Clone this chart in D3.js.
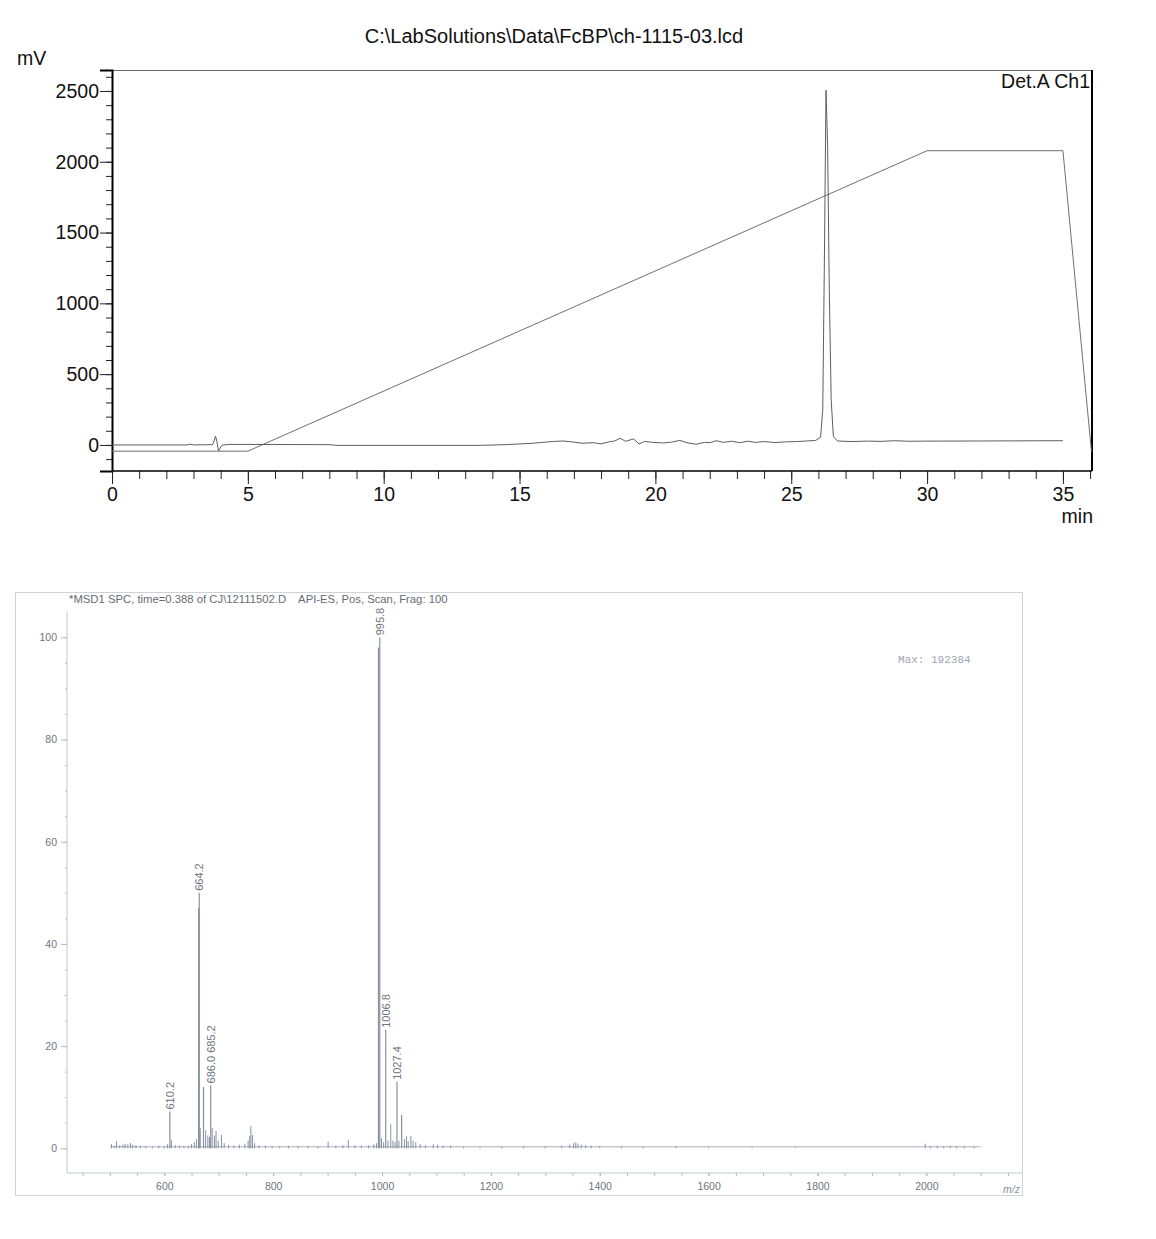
<!DOCTYPE html>
<html>
<head>
<meta charset="utf-8">
<script src="https://cdn.jsdelivr.net/npm/d3@7"></script>
<style>
  body { margin: 0; background: #fff; }
  svg { display: block; }
</style>
</head>
<body>
<svg id="chart" width="1156" height="1239"></svg>
<script>
// ---- chromatogram (top) ----
var lcTitle = "C:\\LabSolutions\\Data\\FcBP\\ch-1115-03.lcd";
var lcTimeTicks = [0, 5, 10, 15, 20, 25, 30, 35];
var lcMvTicks = [0, 500, 1000, 1500, 2000, 2500];
// detector signal, [min, mV]
var lcSignal = [
  [0, 0], [2.75, 0], [2.85, 5], [2.95, 2], [3.05, 0], [3.7, 2], [3.76, 30], [3.81, 62],
  [3.86, 25], [3.92, -42], [3.98, -22], [4.05, -2], [4.3, 4], [6, 3], [8, 2], [8.3, -3],
  [13.5, -3], [14.5, 2], [15.5, 12], [16.2, 24], [16.6, 28], [17, 20], [17.3, 12], [17.7, 16],
  [18, 8], [18.3, 22], [18.5, 28], [18.7, 47], [18.9, 26], [19.2, 42], [19.4, 7], [19.6, 25],
  [19.9, 18], [20.3, 14], [20.6, 20], [20.9, 32], [21.2, 14], [21.5, 5], [21.8, 18], [22.0, 16],
  [22.25, 30], [22.5, 18], [22.8, 26], [23.1, 16], [23.4, 26], [23.7, 18], [24, 24], [24.4, 17],
  [24.8, 22], [25.2, 24], [25.5, 27], [25.9, 32], [26.08, 55], [26.16, 250], [26.22, 1300],
  [26.28, 2505], [26.34, 2100], [26.4, 1100], [26.47, 320], [26.55, 60], [26.7, 28], [27.2, 24],
  [27.8, 27], [28.3, 25], [28.8, 30], [29.3, 26], [30, 27], [32, 28], [35, 30]
];
// pump gradient trace, [min, mV-scale]
var lcGradient = [[0, -44], [5, -44], [30, 2078], [35, 2078], [36.05, -48]];

// ---- mass spectrum (bottom) ----
var msTitle = "*MSD1 SPC, time=0.388 of CJ\\12111502.D    API-ES, Pos, Scan, Frag: 100";
var msMaxText = "Max: 192384";
var msMzTicks = [600, 800, 1000, 1200, 1400, 1600, 1800, 2000];
var msAbTicks = [0, 20, 40, 60, 80, 100];
// [m/z, relative abundance %]
var msPeaks = [
  [503, 0.8], [508, 0.5], [512, 1.4], [518, 0.6], [524, 0.7], [528, 0.9], [533, 0.8], [538, 1.0],
  [542, 0.7], [548, 0.6], [556, 0.5], [566, 0.4], [578, 0.4], [590, 0.5], [600, 0.4], [606, 0.8],
  [610.2, 7.2], [613, 1.6], [620, 0.6], [628, 0.5], [636, 0.4], [644, 0.5], [650, 0.8], [655, 1.2],
  [659, 1.8], [663, 47], [664.2, 50], [666, 4], [672, 12], [676, 3.5], [680, 2.5], [683, 2.2],
  [685.2, 12.3], [688, 4], [692, 2.5], [695, 3.4], [699, 1.5], [705, 2.6], [710, 1.0], [718, 0.6],
  [728, 0.5], [738, 0.7], [748, 0.9], [754, 1.5], [757, 2.4], [759, 4.3], [762, 2.6], [766, 1.0],
  [774, 0.6], [786, 0.5], [798, 0.4], [812, 0.4], [828, 0.5], [846, 0.4], [864, 0.4], [882, 0.3],
  [901, 1.3], [915, 0.5], [928, 0.6], [938, 1.6], [950, 0.6], [962, 0.5], [975, 0.6], [985, 0.8],
  [990, 1.0], [993.5, 98], [995.8, 100], [999, 2.0], [1003, 1.2], [1006.8, 23.2], [1011, 1.5],
  [1016, 4.7], [1020, 1.5], [1024, 1.2], [1027.4, 13], [1031, 1.5], [1036, 6.5], [1041, 1.8],
  [1045, 2.3], [1048, 1.4], [1053, 2.4], [1057, 1.5], [1062, 1.2], [1070, 0.8], [1080, 0.6],
  [1094, 0.8], [1102, 0.7], [1112, 0.5], [1126, 0.5], [1150, 0.3], [1180, 0.3], [1220, 0.3],
  [1260, 0.3], [1300, 0.4], [1330, 0.5], [1345, 0.7], [1352, 1.0], [1356, 1.2], [1360, 0.9],
  [1366, 0.7], [1374, 0.6], [1384, 0.5], [1400, 0.4], [1440, 0.3], [1480, 0.3], [1540, 0.3],
  [1600, 0.2], [1680, 0.2], [1760, 0.2], [1998, 0.9], [2008, 0.4], [2020, 0.5], [2032, 0.4],
  [2044, 0.5], [2056, 0.4], [2070, 0.3], [2088, 0.3]
];
var msBaseline = [[500, 0.3], [2100, 0.3]];
// label text sits on top of the peak with that mz
var msLabels = [
  { mz: 610.2, text: "610.2" },
  { mz: 664.2, text: "664.2" },
  { mz: 685.2, text: "686.0 685.2" },
  { mz: 995.8, text: "995.8" },
  { mz: 1006.8, text: "1006.8" },
  { mz: 1027.4, text: "1027.4" }
];

var svg = d3.select("#chart");

// ================= top chart =================
var xLc = d3.scaleLinear().domain([0, 36.07]).range([112, 1092]);
var yLc = d3.scaleLinear().domain([-184, 2648]).range([471, 70]);
var lcFont = "Liberation Sans, Arial, sans-serif";
var lcSize = "19.5px ";

var gTop = svg.append("g");

gTop.append("text")
  .attr("x", 554).attr("y", 43)
  .attr("text-anchor", "middle")
  .style("font", "20px " + lcFont)
  .attr("fill", "#111")
  .text(lcTitle);

gTop.append("text").attr("x", 17).attr("y", 65)
  .style("font", lcSize + lcFont).attr("fill", "#111").text("mV");
gTop.append("text").attr("x", 1093).attr("y", 523).attr("text-anchor", "end")
  .style("font", lcSize + lcFont).attr("fill", "#111").text("min");
gTop.append("text").attr("x", 1090).attr("y", 88).attr("text-anchor", "end")
  .style("font", lcSize + lcFont).attr("fill", "#111").text("Det.A Ch1");

// frame top + right
gTop.append("line").attr("x1", 112).attr("x2", 1092).attr("y1", 70.5).attr("y2", 70.5)
  .attr("stroke", "#666").attr("stroke-width", 1);
gTop.append("line").attr("x1", 1092).attr("x2", 1092).attr("y1", 70).attr("y2", 471)
  .attr("stroke", "#000").attr("stroke-width", 2);

// minor y ticks
var yMinor = gTop.append("g").attr("transform", "translate(112,0)")
  .call(d3.axisLeft(yLc).tickValues(d3.range(-100, 2601, 100)).tickSize(6).tickFormat(""));
yMinor.select(".domain").remove();
var yMajor = gTop.append("g").attr("transform", "translate(112,0)")
  .call(d3.axisLeft(yLc).tickValues(lcMvTicks).tickSize(12).tickPadding(1).tickFormat(d3.format("d")));
yMajor.select(".domain").attr("stroke-width", 2).attr("stroke", "#000");
yMajor.selectAll("text").style("font", lcSize + lcFont).attr("fill", "#111");
gTop.selectAll(".tick line").attr("stroke", "#222");

var xMinor = gTop.append("g").attr("transform", "translate(0,471)")
  .call(d3.axisBottom(xLc).tickValues(d3.range(0, 37, 1)).tickSize(8).tickFormat(""));
xMinor.select(".domain").remove();
xMinor.selectAll(".tick line").attr("stroke", "#222");
var xMajor = gTop.append("g").attr("transform", "translate(0,471)")
  .call(d3.axisBottom(xLc).tickValues(lcTimeTicks).tickSize(13).tickPadding(3).tickFormat(d3.format("d")));
xMajor.select(".domain").attr("stroke-width", 1.5).attr("stroke", "#000")
  .attr("d", "M112,0H1092");
xMajor.selectAll("text").style("font", lcSize + lcFont).attr("fill", "#111");
xMajor.selectAll(".tick line").attr("stroke", "#222");

var lcLine = d3.line().x(function(d) { return xLc(d[0]); }).y(function(d) { return yLc(d[1]); });

gTop.append("path").datum(lcGradient)
  .attr("d", lcLine).attr("fill", "none").attr("stroke", "#707070").attr("stroke-width", 1);
gTop.append("path").datum(lcSignal)
  .attr("d", lcLine).attr("fill", "none").attr("stroke", "#5e5e5e").attr("stroke-width", 1);

// ================= bottom chart =================
var xMs = d3.scaleLinear().domain([421.2, 2175.8]).range([67, 1022]);
var yMs = d3.scaleLinear().domain([0, 100]).range([1148.3, 637.3]);
var msGrey = "#8791a0";
var msFont = "Liberation Sans, Arial, sans-serif";

var gBot = svg.append("g");

// outer frame
gBot.append("rect").attr("x", 15.5).attr("y", 592.5).attr("width", 1007).attr("height", 603)
  .attr("fill", "none").attr("stroke", "#cfd3d8").attr("stroke-width", 1);

gBot.append("text").attr("x", 69).attr("y", 603)
  .style("font", "11.3px " + msFont).style("white-space", "pre")
  .attr("fill", "#666c75").text(msTitle);

gBot.append("text").attr("x", 898).attr("y", 663)
  .style("font", "11px 'Liberation Mono', 'DejaVu Sans Mono', monospace")
  .attr("fill", "#a0a6ae").text(msMaxText);

// y axis
var yMsMinor = gBot.append("g").attr("transform", "translate(67,0)")
  .call(d3.axisLeft(yMs).tickValues(d3.range(0, 101, 5)).tickSize(2).tickFormat(""));
yMsMinor.select(".domain").remove();
var yMsMajor = gBot.append("g").attr("transform", "translate(67,0)")
  .call(d3.axisLeft(yMs).tickValues(msAbTicks).tickSize(6).tickPadding(4));
yMsMajor.select(".domain").attr("d", "M0,611V1173");
yMsMajor.selectAll("text").style("font", "10.5px " + msFont).attr("fill", "#6e7580");

// x axis
var xMsAxis = gBot.append("g").attr("transform", "translate(0,1173)")
  .call(d3.axisBottom(xMs).tickValues(d3.range(450, 2176, 50)).tickSize(3).tickFormat(""));
xMsAxis.select(".domain").attr("d", "M67,0H1022");
var xMsLab = gBot.append("g").attr("transform", "translate(0,1173)")
  .call(d3.axisBottom(xMs).tickValues(msMzTicks).tickSize(3).tickPadding(7).tickFormat(d3.format("d")));
xMsLab.select(".domain").remove();
xMsLab.selectAll("text").style("font", "10.5px " + msFont).attr("fill", "#6e7580");
gBot.selectAll(".domain").attr("stroke", "#c3c8ce");
gBot.selectAll(".tick line").attr("stroke", "#b5bbc3");

gBot.append("text").attr("x", 1003).attr("y", 1193)
  .style("font", "italic 10.5px " + msFont).attr("fill", "#8a919b").text("m/z");

// spectrum
gBot.append("path").datum(msBaseline)
  .attr("d", d3.line().x(function(d) { return xMs(d[0]); }).y(function(d) { return yMs(d[1]); }))
  .attr("fill", "none").attr("stroke", msGrey).attr("stroke-width", 1).attr("opacity", 0.7);

gBot.append("g").selectAll("line")
  .data(msPeaks)
  .enter().append("line")
  .attr("x1", function(d) { return xMs(d[0]); })
  .attr("x2", function(d) { return xMs(d[0]); })
  .attr("y1", yMs(0))
  .attr("y2", function(d) { return yMs(d[1]); })
  .attr("stroke", msGrey)
  .attr("stroke-width", function(d) { return d[1] > 5 ? 1.2 : 1; });

gBot.append("g").selectAll("text")
  .data(msLabels)
  .enter().append("text")
  .attr("transform", function(d) {
    var pk = msPeaks.find(function(p) { return p[0] === d.mz; });
    return "translate(" + xMs(d.mz) + "," + (yMs(pk[1]) - 2) + ") rotate(-90)";
  })
  .attr("dy", "0.35em")
  .style("font", "11px " + msFont)
  .attr("fill", "#6e7580")
  .text(function(d) { return d.text; });
</script>
</body>
</html>
